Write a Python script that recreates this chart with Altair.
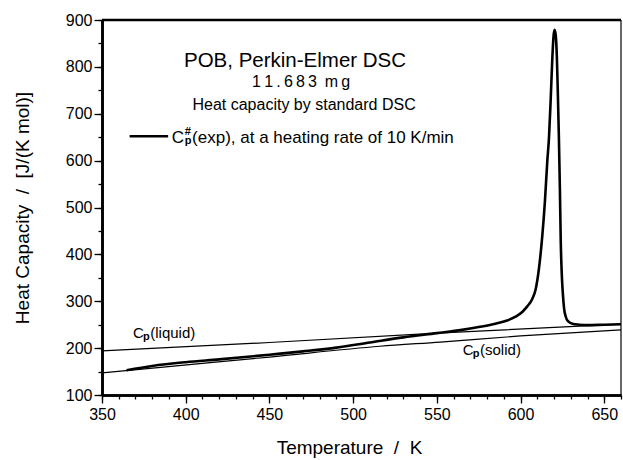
import altair as alt
import pandas as pd

exp_T = [364.7, 380, 400, 420, 450, 470, 490, 510, 530, 550, 565, 575, 585, 592, 597,
         601, 604, 607, 609, 611, 613, 614.5, 616, 617, 618, 619, 619.7, 620.3, 621,
         621.7, 622.3, 622.9, 623.5, 624, 624.6, 625.2, 626, 627, 628.5, 631, 635, 640,
         650, 660]
exp_Cp = [153, 162, 170, 176, 186, 193, 201, 212, 223, 232, 239, 245, 252, 259, 267,
          277, 289, 305, 325, 370, 440, 510, 600, 650, 730, 820, 865, 879, 868,
          820, 740, 650, 540, 430, 360, 320, 285, 267, 257, 252, 250, 249,
          250, 251]

liq_T = [350, 450, 550, 660]
liq_Cp = [194, 212, 232, 251]

sol_T = [350, 385, 450, 516, 552, 600, 660]
sol_Cp = [147, 159, 181, 204, 213, 226, 239]

x_major = list(range(350, 651, 50))
x_minor = list(range(350, 661, 10))
y_major = list(range(100, 901, 100))
y_minor = list(range(100, 901, 50))

FONT = "Liberation Sans"
NB = "\u00a0"

df_exp = pd.DataFrame({"T": exp_T, "Cp": exp_Cp})
df_liq = pd.DataFrame({"T": liq_T, "Cp": liq_Cp})
df_sol = pd.DataFrame({"T": sol_T, "Cp": sol_Cp})

xscale = alt.Scale(domain=[350, 660], nice=False, zero=False)
yscale = alt.Scale(domain=[100, 900], nice=False, zero=False)

common = dict(tickColor="black", tickWidth=1.3, domainColor="black", domainWidth=2.6,
              grid=False, labelFont=FONT, labelColor="black", labelOverlap=False,
              labelFlush=False)

xaxis = alt.Axis(
    values=x_major, orient="bottom", tickSize=8, format="d",
    labelFontSize=16, labelPadding=3,
    title=f"Temperature{NB}{NB}/{NB}{NB}K", titleFont=FONT, titleFontSize=19,
    titleFontWeight="normal", titleColor="black", titlePadding=16, titleX=247,
    **common,
)
yaxis = alt.Axis(
    values=y_major, orient="left", tickSize=8, format="d",
    labelFontSize=16, labelPadding=2,
    title=f"Heat Capacity{NB}{NB}/{NB}{NB}[J/(K mol)]", titleFont=FONT, titleFontSize=19,
    titleFontWeight="normal", titleColor="black", titlePadding=33,
    **common,
)
xaxis_minor = alt.Axis(values=x_minor, orient="bottom", tickSize=4, labels=False,
                       title=None, **common)
yaxis_minor = alt.Axis(values=y_minor, orient="left", tickSize=4, labels=False,
                       title=None, **common)

exp_line = alt.Chart(df_exp).mark_line(color="black", strokeWidth=2.6, interpolate="monotone").encode(
    x=alt.X("T:Q", scale=xscale, axis=xaxis),
    y=alt.Y("Cp:Q", scale=yscale, axis=yaxis),
)
liq_line = alt.Chart(df_liq).mark_line(color="black", strokeWidth=1.2).encode(
    x=alt.X("T:Q", scale=xscale, axis=xaxis_minor),
    y=alt.Y("Cp:Q", scale=yscale, axis=yaxis_minor))
sol_line = alt.Chart(df_sol).mark_line(color="black", strokeWidth=1.2, interpolate="monotone").encode(
    x=alt.X("T:Q", scale=xscale, axis=None), y=alt.Y("Cp:Q", scale=yscale, axis=None))

top_rule = alt.Chart().mark_rule(color="black", strokeWidth=2.6).encode(
    y=alt.datum(900, scale=yscale, axis=None))
right_rule = alt.Chart().mark_rule(color="black", strokeWidth=1.2).encode(
    x=alt.datum(660, scale=xscale, axis=None))


def txt(s, x, y, size, align="center", weight="normal"):
    return alt.Chart().mark_text(
        text=s, font=FONT, fontSize=size, align=align, baseline="alphabetic",
        color="black", fontWeight=weight,
    ).encode(x=alt.datum(x, scale=xscale, axis=None), y=alt.datum(y, scale=yscale, axis=None))


t1 = txt("POB, Perkin-Elmer DSC", 465.3, 800, 20.5)
t2 = txt("1\u20091\u2009.\u20096\u20098\u20093\u2009 m\u2009g", 468.9, 757, 16)
t3 = txt("Heat capacity by standard DSC", 470.7, 707, 16)

leg_line = alt.Chart().mark_rule(color="black", strokeWidth=2.6).encode(
    x=alt.datum(366.5, scale=xscale, axis=None), x2=alt.datum(389.5),
    y=alt.datum(652, scale=yscale, axis=None))
leg_C = txt("C", 391.6, 638, 17, align="left")
leg_sup = txt("#", 399.4, 654, 11, align="left", weight="bold")
leg_sub = txt("p", 399.4, 636, 11, align="left", weight="bold")
leg_rest = txt("(exp), at a heating rate of 10 K/min", 403.8, 638, 17, align="left")

liqC = txt("C", 368.5, 222, 15, align="left")
liqp = txt("p", 374.5, 218, 11, align="left", weight="bold")
liqr = txt("(liquid)", 378.8, 222, 15, align="left")

solC = txt("C", 565.5, 185, 15, align="left")
solp = txt("p", 571.5, 181, 11, align="left", weight="bold")
solr = txt("(solid)", 575.8, 185, 15, align="left")

chart = alt.layer(
    exp_line, liq_line, sol_line, top_rule, right_rule,
    t1, t2, t3, leg_line, leg_C, leg_sup, leg_sub, leg_rest,
    liqC, liqp, liqr, solC, solp, solr,
).resolve_axis(x="independent", y="independent").properties(
    width=519, height=375,
    autosize=alt.AutoSizeParams(type="none"),
    padding={"left": 102, "top": 20, "right": 2, "bottom": 65},
    background="white",
).configure_view(stroke=None)

chart.save("out.html", embed_options={"renderer": "svg", "actions": False})
